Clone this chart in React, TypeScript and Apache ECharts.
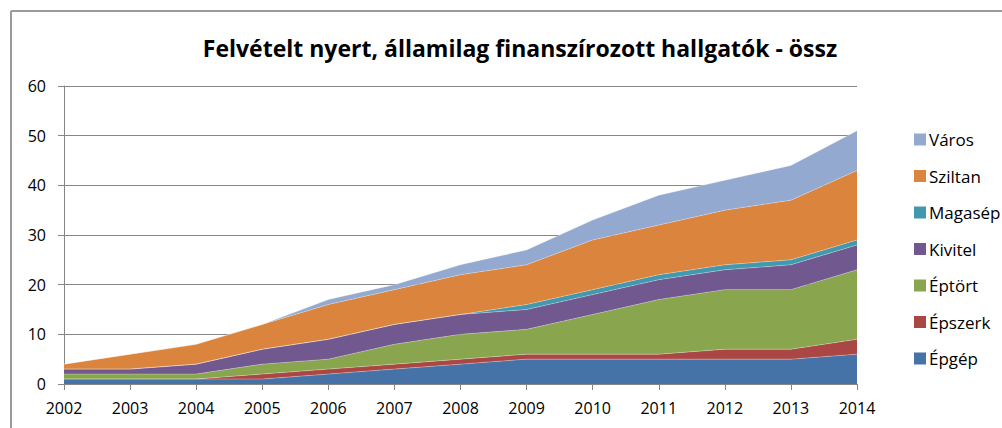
import React, { useEffect, useRef } from "react";
import * as echarts from "echarts";

const years = ["2002", "2003", "2004", "2005", "2006", "2007", "2008", "2009", "2010", "2011", "2012", "2013", "2014"];
const epgep = [1, 1, 1, 1, 2, 3, 4, 5, 5, 5, 5, 5, 6];
const epszerk = [0, 0, 0, 1, 1, 1, 1, 1, 1, 1, 2, 2, 3];
const eptort = [1, 1, 1, 2, 2, 4, 5, 5, 8, 11, 12, 12, 14];
const kivitel = [1, 1, 2, 3, 4, 4, 4, 4, 4, 4, 4, 5, 5];
const magasep = [0, 0, 0, 0, 0, 0, 0, 1, 1, 1, 1, 1, 1];
const sziltan = [1, 3, 4, 5, 7, 7, 8, 8, 10, 10, 11, 12, 14];
const varos = [0, 0, 0, 0, 1, 1, 2, 3, 4, 6, 6, 7, 8];

const seriesDefs = [
  { name: "Épgép", data: epgep, color: "#4572A7" },
  { name: "Épszerk", data: epszerk, color: "#AA4643" },
  { name: "Éptört", data: eptort, color: "#89A54E" },
  { name: "Kivitel", data: kivitel, color: "#71588F" },
  { name: "Magasép", data: magasep, color: "#4198AF" },
  { name: "Sziltan", data: sziltan, color: "#DB843D" },
  { name: "Város", data: varos, color: "#93A9CF" },
];

const FONT = "Open Sans";

export default function App() {
  const ref = useRef<HTMLDivElement>(null);
  useEffect(() => {
    if (!ref.current) return;
    const chart = echarts.init(ref.current, undefined, { renderer: "svg" });
    chart.setOption({
      animation: false,
      backgroundColor: "#ffffff",
      title: {
        text: "Felvételt nyert, államilag finanszírozott hallgatók - össz",
        left: 515,
        top: 31,
        textAlign: "center",
        textStyle: { fontFamily: FONT, fontWeight: "bold", fontSize: 23, color: "#000" },
      },
      graphic: [
        { type: "line", shape: { x1: 11, y1: 11, x2: 1002, y2: 11 }, style: { stroke: "#9a9a9a", lineWidth: 2 } },
        { type: "line", shape: { x1: 11, y1: 11, x2: 11, y2: 428 }, style: { stroke: "#9a9a9a", lineWidth: 2 } },
      ],
      legend: {
        orient: "vertical",
        left: 909,
        top: 126,
        itemWidth: 12,
        itemHeight: 12,
        itemGap: 19.5,
        icon: "rect",
        data: ["Város", "Sziltan", "Magasép", "Kivitel", "Éptört", "Épszerk", "Épgép"],
        textStyle: { fontFamily: FONT, fontSize: 17, color: "#000", lineHeight: 17, padding: [0, 0, 0, -2] },
      },
      grid: { left: 64, right: 145, top: 86, bottom: 44, containLabel: false },
      xAxis: {
        type: "category",
        data: years,
        boundaryGap: false,
        axisLine: { lineStyle: { color: "#868686", width: 1 } },
        axisTick: { alignWithLabel: true, length: 6, lineStyle: { color: "#868686" } },
        axisLabel: { fontFamily: FONT, fontSize: 16, color: "#000", margin: 16 },
        splitLine: { show: false },
      },
      yAxis: {
        type: "value",
        min: 0,
        max: 60,
        interval: 10,
        axisLine: { show: true, lineStyle: { color: "#868686", width: 1 } },
        axisTick: { show: true, length: 6, lineStyle: { color: "#868686" } },
        axisLabel: { fontFamily: FONT, fontSize: 16, color: "#000", margin: 18 },
        splitLine: { lineStyle: { color: "#868686", width: 1 } },
      },
      series: seriesDefs.map((s) => ({
        name: s.name,
        type: "line",
        stack: "total",
        data: s.data,
        symbol: "none",
        showSymbol: false,
        color: s.color,
        lineStyle: { width: 0.6, color: "rgba(255,255,255,0.5)" },
        areaStyle: { color: s.color, opacity: 1 },
        itemStyle: { color: s.color },
      })),
    });
    return () => chart.dispose();
  }, []);
  return (
    <div
      ref={ref}
      style={{ position: "fixed", left: 0, top: 0, width: 1002, height: 428 }}
    />
  );
}
